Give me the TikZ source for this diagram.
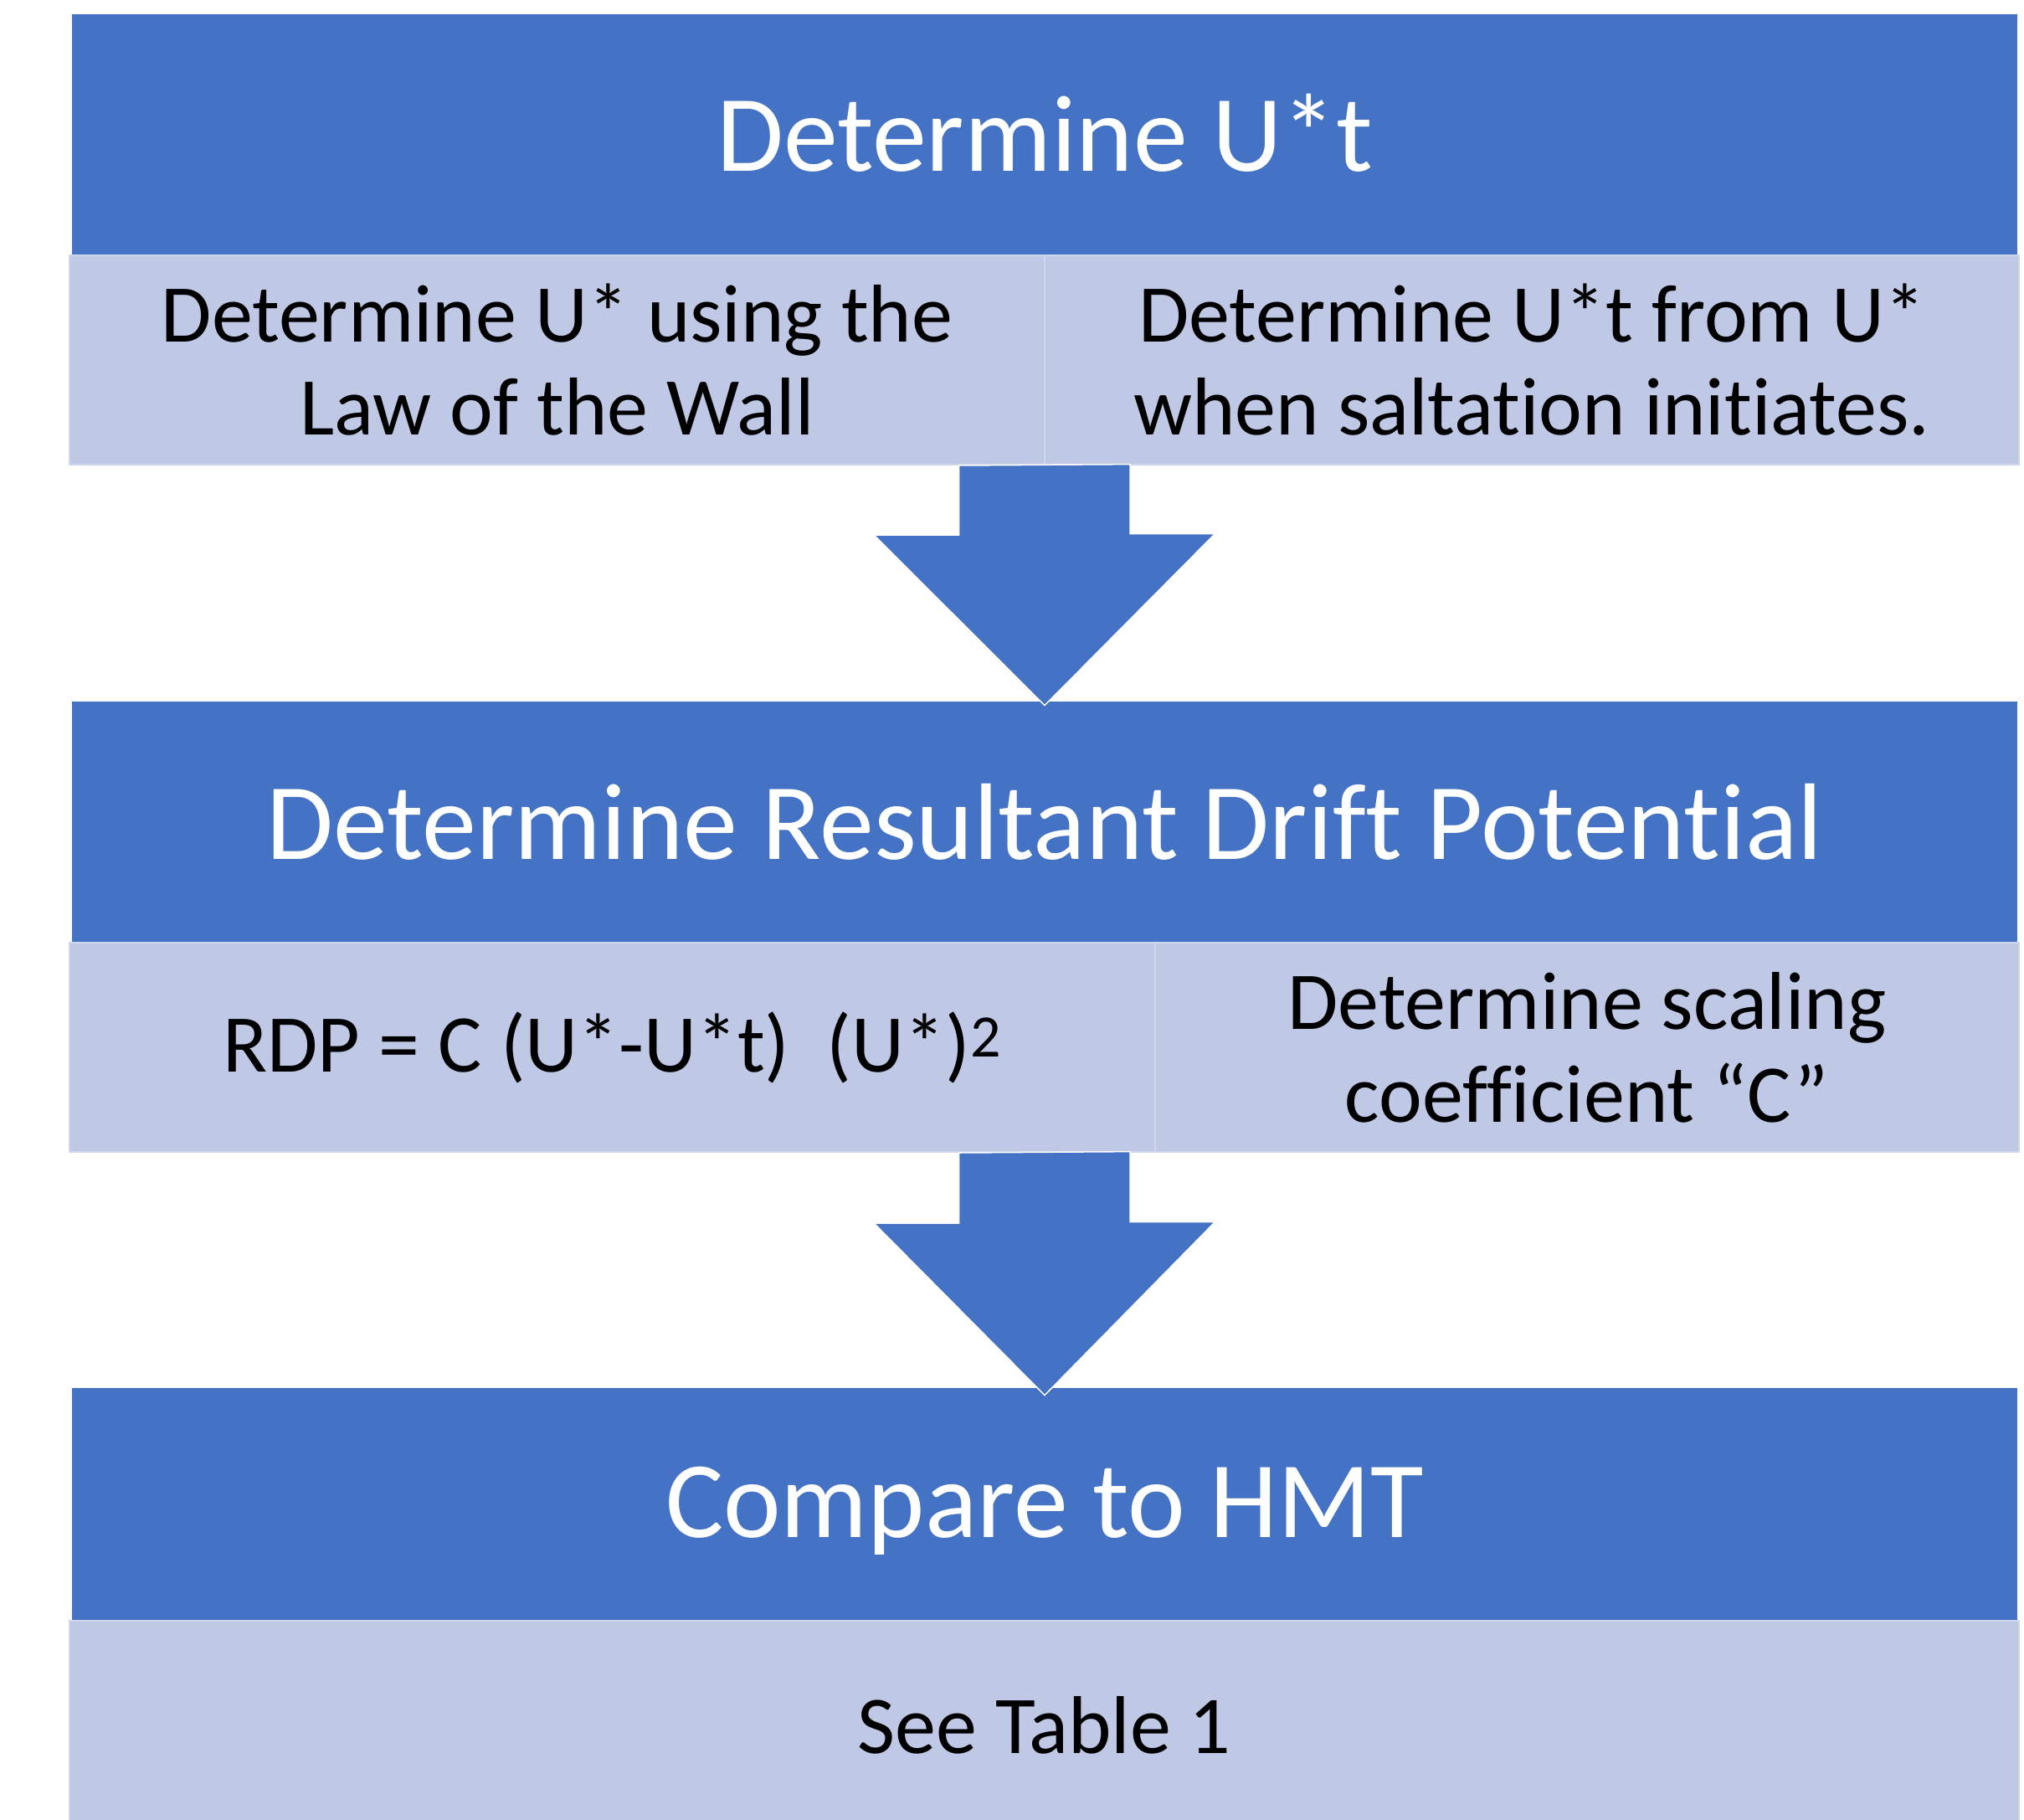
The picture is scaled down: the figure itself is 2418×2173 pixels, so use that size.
\documentclass[tikz,border=0pt]{standalone}
\usepackage{fontspec}
\setmainfont{Carlito}[Ligatures=NoCommon]
\usetikzlibrary{calc}
\definecolor{hdrblue}{RGB}{68,114,196}
\definecolor{cellblue}{RGB}{191,200,229}
\definecolor{celledge}{RGB}{208,215,236}
\begin{document}
\begin{tikzpicture}[x=0.5pt,y=-0.5pt,
  header/.style={fill=hdrblue,draw=none,text=white,minimum width=1162pt,inner sep=0pt,
    font=\fontsize{65}{78}\selectfont},
  cell/.style={fill=cellblue,draw=celledge,line width=1pt,text=black,inner sep=0pt,
    minimum height=125pt,align=center,font=\fontsize{49}{55.5}\selectfont},
  blockarrow/.style={fill=hdrblue,draw=white,line width=0.75pt,line join=miter}]
\useasboundingbox (0,0) rectangle (2418,2173);
\begin{scope}
\clip (0,0) rectangle (2418,2173);
% step 1
\node[header,minimum height=144pt] (t1) at (1248,161) {\raisebox{1pt}[\height][\depth]{Determine U*t}};
\node[cell,minimum width=582.5pt] (c1a) at (665.5,430) {Determine U* using the\\Law of the Wall};
\node[cell,minimum width=582pt] (c1b) at (1830,430) {Determine U*t from U*\\when saltation initiates.};
% step 2
\node[header,minimum height=144pt] (t2) at (1248,982) {Determine Resultant Drift Potential};
\node[cell,minimum width=648.5pt] (c2a) at (731.5,1251) {RDP = C (U*-U*t)\ \ (U*)\textsuperscript{\fontsize{36}{36}\selectfont 2}};
\node[cell,minimum width=516pt] (c2b) at (1896,1251) {Determine scaling\\coefficient “C”};
% step 3
\node[header,minimum height=139pt] (t3) at (1248,1797) {\raisebox{-4pt}[\height][\depth]{Compare to HMT}};
\node[cell,minimum width=1164.5pt] (c3) at (1247.5,2061) {See Table 1};
\end{scope}
% arrows
\coordinate (a1) at (t1.south |- c1a.south);
\draw[blockarrow] (a1) ++(-102.5,0) -- ++(0,83) -- ++(-101.5,0)
  -- ($(t2.north)+(0,5)$) -- ++(203.5,-205) -- ++(-101.5,0) -- ++(0,-83) -- cycle;
\coordinate (a2) at (t2.south |- c2a.south);
\draw[blockarrow] (a2) ++(-102.5,0) -- ++(0,84) -- ++(-101.5,0)
  -- ($(t3.north)+(0,9)$) -- ++(203.5,-207) -- ++(-101.5,0) -- ++(0,-84) -- cycle;
\end{tikzpicture}
\end{document}
